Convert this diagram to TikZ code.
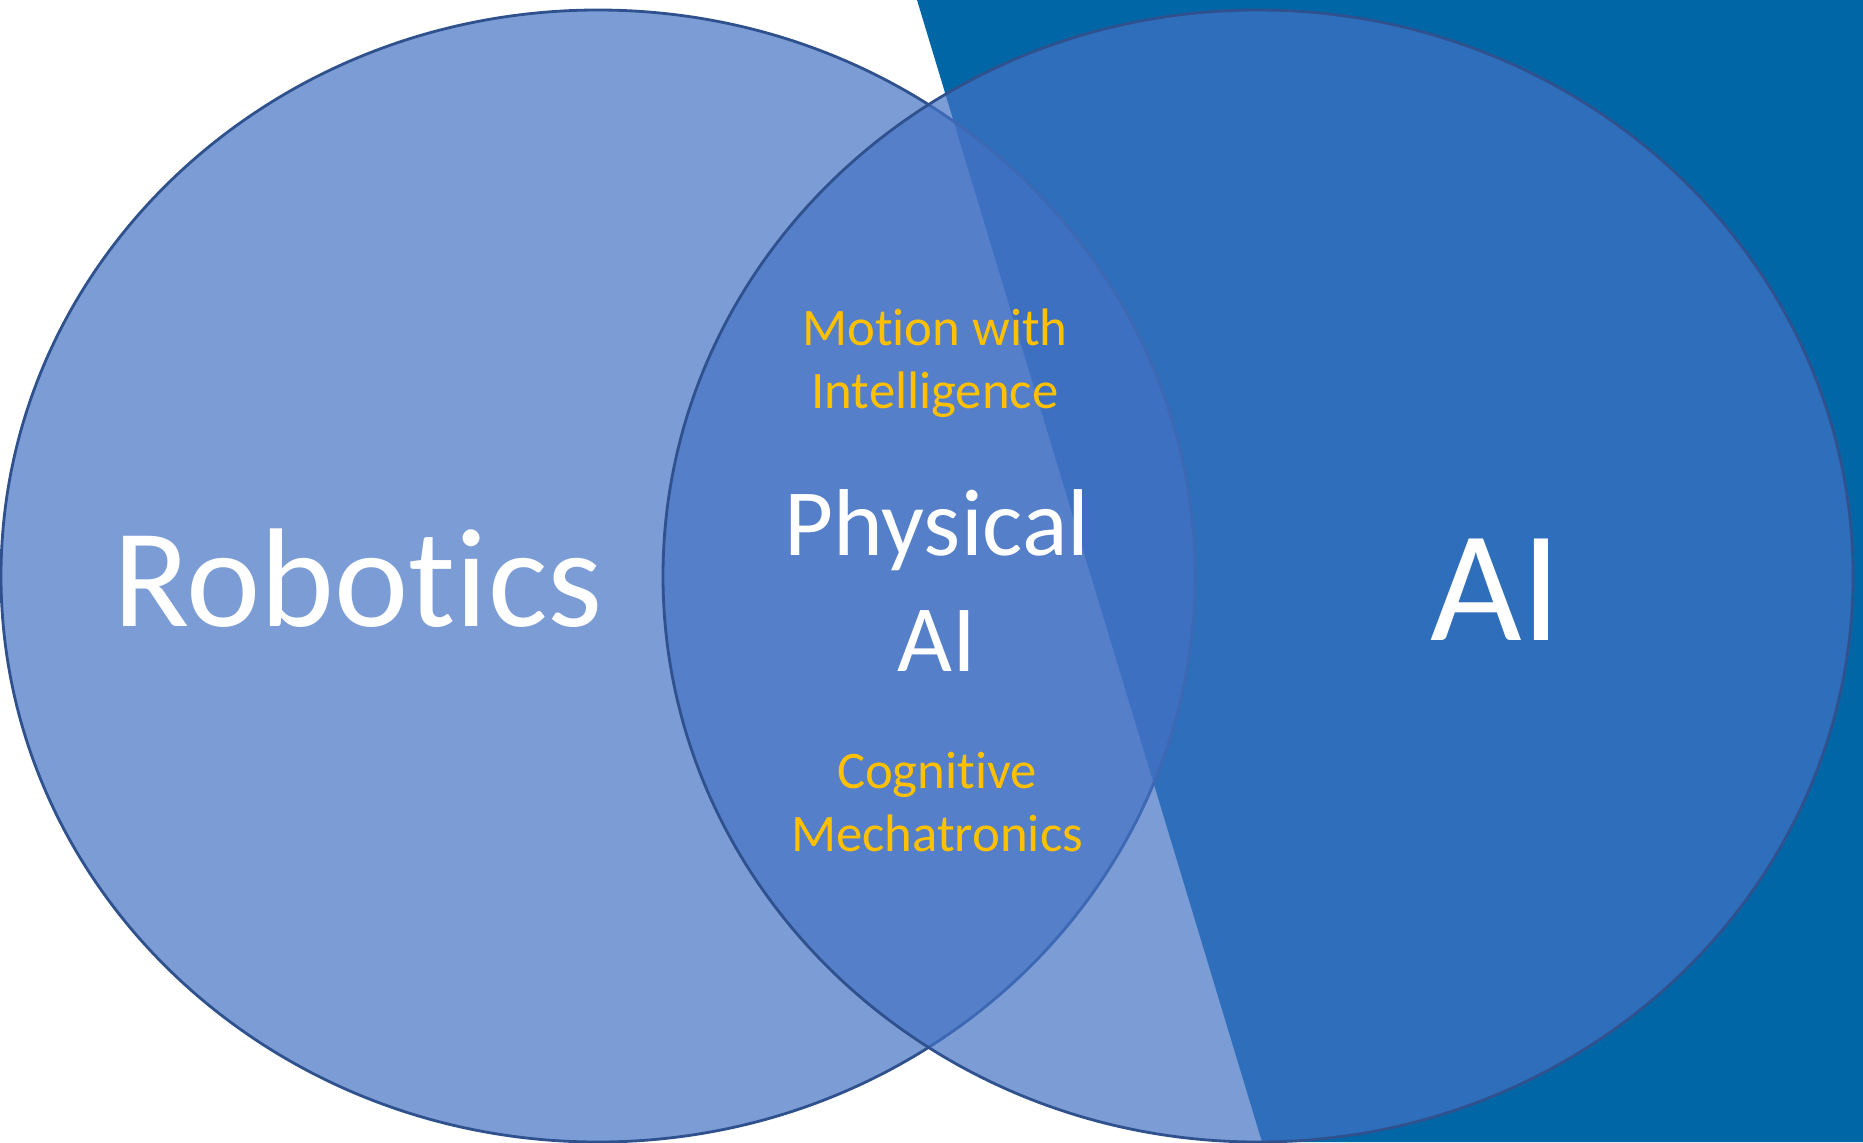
\documentclass[tikz,border=0pt]{standalone}
\usepackage{fontspec}
\setmainfont{Carlito}[Ligatures={NoCommon,NoContextual}]
\usepackage{xcolor}
\definecolor{darkband}{HTML}{0066A6}
\definecolor{setfill}{HTML}{4472C4}
\definecolor{setedge}{HTML}{2F528F}
\definecolor{gold}{HTML}{FFC000}

\begin{document}
\begin{tikzpicture}[x=0.01cm,y=-0.01cm,
    venn/.style={fill=setfill,fill opacity=0.7,draw=setedge,line width=0.8pt},
    title/.style={text=white,inner sep=0pt,anchor=base},
    note/.style={text=gold,inner sep=0pt,anchor=base,font=\fontsize{15}{18}\selectfont}]
        \useasboundingbox (0,0) rectangle (1863,1142);

        % dark band behind the sets
        \fill[darkband] (917,0) -- (1863,0) -- (1863,1142) -- (1262,1142) -- cycle;

        \draw[venn] (598,576) ellipse [x radius=597, y radius=566];
        \draw[venn] (1258,576) ellipse [x radius=595, y radius=566];

        \node[title,font=\fontsize{40}{48}\selectfont] (robotics) at (358,626) {Robotics};
        \node[title,font=\fontsize{45}{54}\selectfont] (ai) at (1496,640) {AI};

        \node[title,font=\fontsize{27}{33}\selectfont] (physical) at (937,555) {Physical};
        \node[title,font=\fontsize{27}{33}\selectfont] (physai) at (937,671) {AI};

        \node[note] (motion) at (935,345) {Motion with};
        \node[note] (intel) at (935,408) {Intelligence};
        \node[note] (cogn) at (937,788) {Cognitive};
        \node[note] (mecha) at (937,851) {Mechatronics};
      \end{tikzpicture}
\end{document}
